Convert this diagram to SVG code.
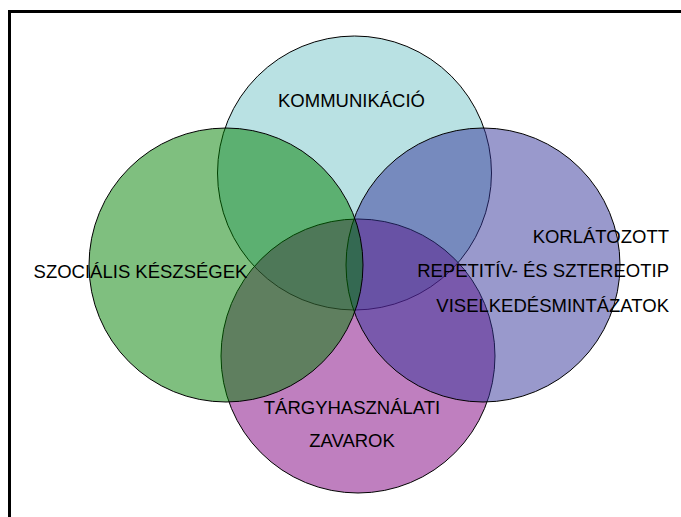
<svg xmlns="http://www.w3.org/2000/svg" width="681" height="517" viewBox="0 0 681 517">
<style>
.c{fill-opacity:0.5;stroke:#000;stroke-width:1}
.t{font-family:"Liberation Sans",Arial,sans-serif;font-size:18.5px;fill:#000}
</style>
<rect width="681" height="517" fill="#fff"/>
<path d="M9.5,517 V11.5 H681" fill="none" stroke="#000" stroke-width="3"/>
<g id="kommunikacio">
<circle class="c" cx="354.5" cy="173" r="137" fill="#73c3c7"/>
</g>
<g id="targyhasznalati">
<circle class="c" cx="358" cy="356" r="137" fill="#800080"/>
</g>
<g id="korlatozott">
<circle class="c" cx="483" cy="265" r="137" fill="#333399"/>
</g>
<g id="szocialis">
<circle class="c" cx="226" cy="265" r="137" fill="#008000"/>
</g>
<g id="labels">
<text class="t" x="351.5" y="107" text-anchor="middle">KOMMUNIKÁCIÓ</text>
<text class="t" x="140.5" y="278" text-anchor="middle">SZOCIÁLIS KÉSZSÉGEK</text>
<text class="t" x="669" y="243" text-anchor="end">KORLÁTOZOTT</text>
<text class="t" x="669" y="277" text-anchor="end">REPETITÍV- ÉS SZTEREOTIP</text>
<text class="t" x="669" y="312" text-anchor="end">VISELKEDÉSMINTÁZATOK</text>
<text class="t" x="352" y="414" text-anchor="middle">TÁRGYHASZNÁLATI</text>
<text class="t" x="352" y="447" text-anchor="middle">ZAVAROK</text>
</g>
<g id="connectors"/>
</svg>
